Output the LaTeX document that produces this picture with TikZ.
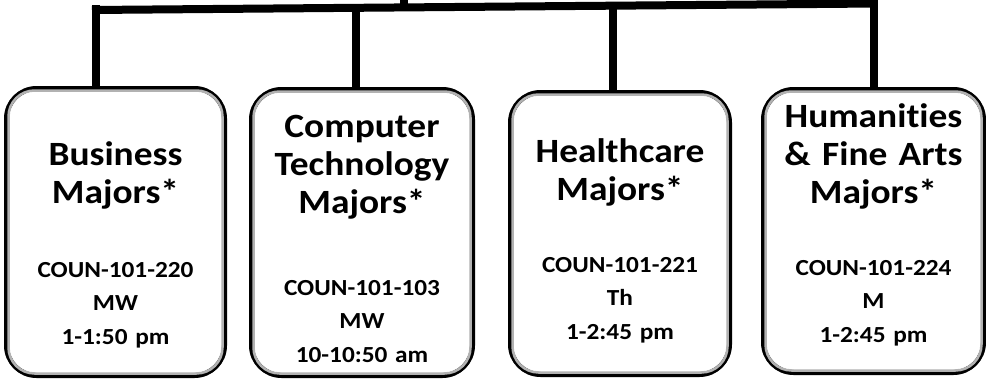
\documentclass[tikz,border=0pt]{standalone}
\usepackage{fontspec}
\setmainfont{Carlito}[FakeStretch=1.1, Ligatures={NoCommon}]
\begin{document}
\begin{tikzpicture}[x=1pt,y=-1pt,
  majorbox/.style={draw=black, line width=5pt, rounded corners=30pt, fill=white, inner sep=0pt},
  inshadow/.style={draw=black!30, line width=2.5pt, rounded corners=26pt},
  conn/.style={draw=black, line width=8pt},
  titletext/.style={text width=215pt, align=center, inner sep=0pt, anchor=base,
    font={\fontsize{34}{38}\selectfont\bfseries}},
  infotext/.style={text width=215pt, align=center, inner sep=0pt, anchor=base,
    font={\fontsize{23}{33.5}\selectfont\bfseries}}]
\useasboundingbox (0,0) rectangle (986,380);
% boxes
\node[majorbox, minimum width=218pt, minimum height=287pt] (b1) at (115.5,232) {};
\node[majorbox, minimum width=221pt, minimum height=286pt] (b2) at (362,232.5) {};
\node[majorbox, minimum width=219pt, minimum height=282pt] (b3) at (620,233.5) {};
\node[majorbox, minimum width=220pt, minimum height=283pt] (b4) at (873.5,231) {};
\foreach \b in {b1,b2,b3,b4}{
  \draw[inshadow] ([shift={(4.5,4.5)}]\b.north west) rectangle ([shift={(-4.5,-4.5)}]\b.south east);
}
% connectors
\coordinate (barL) at (92,10);
\coordinate (barR) at (877.5,3.5);
\coordinate (top) at (404,0);
\coordinate (j1) at (96,5);
\coordinate (j2) at (356,8);
\coordinate (j3) at (613,6);
\coordinate (j4) at (873.5,0);
\draw[conn] (barL) -- (barR);
\draw[conn] (top) -- ++(0,8);
\draw[conn] (j1) -- (j1 |- b1.north);
\draw[conn] (j2) -- (j2 |- b2.north);
\draw[conn] (j3) -- (j3 |- b3.north);
\draw[conn] (j4) -- (j4 |- b4.north);
% texts
\node[titletext] (t1) at (115.5,165) {Business\\Majors*};
\node[infotext] (i1) at (115.5,277) {COUN-101-220\\MW\\1-1:50 pm};
\node[titletext] (t2) at (362,137) {Computer\\Technology\\Majors*};
\node[infotext] (i2) at (362,295) {COUN-101-103\\MW\\10-10:50 am};
\node[titletext] (t3) at (620,162) {Healthcare\\Majors*};
\node[infotext] (i3) at (620,272) {COUN-101-221\\Th\\1-2:45 pm};
\node[titletext] (t4) at (873.5,127) {Humanities\\\& Fine Arts\\Majors*};
\node[infotext] (i4) at (873.5,275) {COUN-101-224\\M\\1-2:45 pm};
\end{tikzpicture}
\end{document}
